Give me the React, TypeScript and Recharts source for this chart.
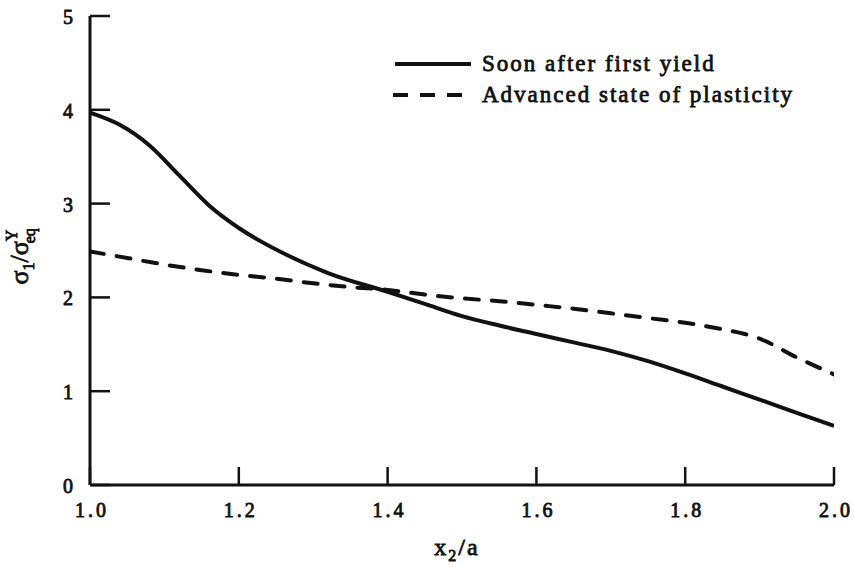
import React from 'react';
import { LineChart, Line, XAxis, YAxis } from 'recharts';

// values
const soonX = [1.0, 1.04, 1.08, 1.12, 1.16, 1.2, 1.26, 1.32, 1.4, 1.45, 1.5, 1.55, 1.6, 1.65, 1.7, 1.75, 1.8, 1.85, 1.9, 1.95, 2.0];
const soonY = [3.97, 3.84, 3.62, 3.3, 2.98, 2.74, 2.47, 2.26, 2.06, 1.93, 1.8, 1.7, 1.61, 1.52, 1.43, 1.32, 1.19, 1.05, 0.91, 0.77, 0.63];

const advX = [1.0, 1.05, 1.1, 1.15, 1.2, 1.25, 1.3, 1.35, 1.4, 1.45, 1.5, 1.55, 1.6, 1.65, 1.7, 1.75, 1.8, 1.85, 1.88, 1.9, 1.95, 2.0];
const advY = [2.49, 2.42, 2.35, 2.29, 2.24, 2.2, 2.15, 2.11, 2.08, 2.03, 1.99, 1.96, 1.92, 1.88, 1.83, 1.78, 1.73, 1.66, 1.61, 1.56, 1.36, 1.18];

const xTicks = [1.0, 1.2, 1.4, 1.6, 1.8, 2.0];
const yTicks = [0, 1, 2, 3, 4, 5];
const seriesNames = ['Soon after first yield', 'Advanced state of plasticity'];
const seriesDash = [undefined, '15 12'];

const soonData = soonX.map((x, i) => ({ x, y: soonY[i] }));
const advData = advX.map((x, i) => ({ x, y: advY[i] }));

const FONT = '"Liberation Serif", "Times New Roman", Times, serif';
const INK = '#111';
const textStyle = { fontFamily: FONT, fill: INK, stroke: INK, strokeWidth: 0.8 };

const YTick = ({ x, y, payload }: any) => (
  <g>
    <line x1={x} x2={x + 20} y1={y} y2={y} stroke={INK} strokeWidth={2.5} />
    <text x={x - 14} y={y + 1} textAnchor="end" dominantBaseline="central" fontSize={20} letterSpacing={3} {...textStyle}>
      {payload.value}
    </text>
  </g>
);

const XTick = ({ x, y, payload }: any) => (
  <g>
    <line x1={x} x2={x} y1={y} y2={y - 18} stroke={INK} strokeWidth={2.5} />
    <text x={x + 2} y={y + 32} textAnchor="middle" fontSize={20} letterSpacing={3} {...textStyle}>
      {payload.value.toFixed(1)}
    </text>
  </g>
);

const XLabel = ({ viewBox }: any) => (
  <text x={viewBox.x + viewBox.width / 2 - 5} y={viewBox.y + 70} textAnchor="middle" fontSize={24} letterSpacing={2} {...textStyle}>
    x<tspan dy={6} fontSize={16}>2</tspan>
    <tspan dy={-6}>/a</tspan>
  </text>
);

const YLabel = ({ viewBox }: any) => (
  <g transform={`translate(${viewBox.x + 30}, ${viewBox.y + viewBox.height / 2 - 3}) rotate(-90)`}>
    <text x={-37} y={-2} textAnchor="start" fontSize={26} {...textStyle}>
      σ<tspan dy={6} fontSize={16}>1</tspan>
      <tspan dy={-6}>/σ</tspan>
      <tspan dy={-11} fontSize={16}>Y</tspan>
      <tspan dx={-12} dy={18} fontSize={16}>eq</tspan>
    </text>
  </g>
);

const ChartLegend = () => (
  <svg width={440} height={64} style={{ position: 'absolute', left: 391, top: 50 }}>
    {seriesNames.map((name, i) => (
      <g key={name} transform={`translate(0, ${14 + i * 31})`}>
        <line
          x1={i ? 2 : 4}
          x2={i ? 72 : 80}
          y1={0}
          y2={0}
          stroke={INK}
          strokeWidth={4}
          strokeDasharray={seriesDash[i]}
        />
        <text x={91} y={7} fontSize={23} letterSpacing={2} {...textStyle}>
          {name}
        </text>
      </g>
    ))}
  </svg>
);

export default function App() {
  return (
    <div style={{ position: 'absolute', left: 0, top: 0, width: 854, height: 567, background: '#fff' }}>
      <LineChart width={854} height={567} margin={{ top: 16, right: 20, bottom: 22, left: 0 }}>
        <XAxis
          type="number"
          dataKey="x"
          domain={[1, 2]}
          ticks={xTicks}
          height={60}
          tickSize={0}
          tickMargin={0}
          tickLine={false}
          tick={<XTick />}
          axisLine={{ stroke: INK, strokeWidth: 3 }}
          label={<XLabel />}
          allowDataOverflow
        />
        <YAxis
          type="number"
          domain={[0, 5]}
          ticks={yTicks}
          width={90}
          tickSize={0}
          tickMargin={0}
          tickLine={false}
          tick={<YTick />}
          axisLine={{ stroke: INK, strokeWidth: 3 }}
          label={<YLabel />}
          allowDataOverflow
        />
        <Line
          data={soonData}
          dataKey="y"
          name={seriesNames[0]}
          type="monotone"
          stroke={INK}
          strokeWidth={4}
          dot={false}
          activeDot={false}
          isAnimationActive={false}
        />
        <Line
          data={advData}
          dataKey="y"
          name={seriesNames[1]}
          type="monotone"
          stroke={INK}
          strokeWidth={4}
          strokeDasharray="14 13"
          strokeLinecap="round"
          dot={false}
          activeDot={false}
          isAnimationActive={false}
        />
      </LineChart>
      <ChartLegend />
    </div>
  );
}
